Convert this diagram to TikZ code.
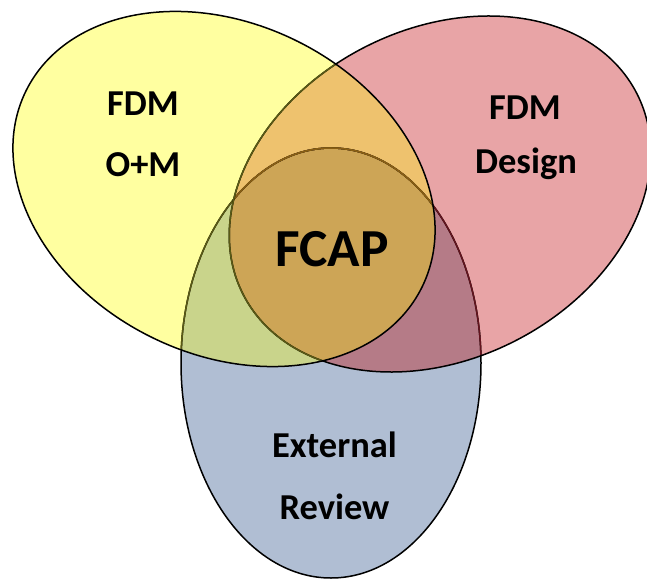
\documentclass[tikz,border=0pt]{standalone}
\usepackage{fontspec}
\setmainfont{Carlito}
\definecolor{cA}{HTML}{FFFFA0}
\definecolor{cB}{HTML}{E8A4A6}
\definecolor{cC}{HTML}{B0BED3}
\definecolor{cD}{HTML}{EEC26E}
\definecolor{cE}{HTML}{C9D48B}
\definecolor{cF}{HTML}{B57B87}
\definecolor{cG}{HTML}{CDA556}
\definecolor{lnY}{HTML}{5A5A14}
\definecolor{lnR}{HTML}{64141E}
\definecolor{lnYR}{HTML}{8A5F14}
\tikzset{
  yrot/.style={rotate around={-26.5:(224,390)}},
  rrot/.style={rotate around={27:(440,385)}},
  edge/.style={line width=1.5pt},
  lbl/.style={font=\fontsize{36.5}{42}\selectfont\bfseries, anchor=base, inner sep=0pt},
  big/.style={font=\fontsize{53.5}{62}\selectfont\bfseries, anchor=base, inner sep=0pt}
}
\newcommand\pY{[yrot] (224,390) ellipse [x radius=221, y radius=165]}
\newcommand\pR{[rrot] (440,385) ellipse [x radius=221, y radius=165]}
\newcommand\pB{(331,216) ellipse [x radius=150, y radius=215]}
\begin{document}
\begin{tikzpicture}[x=1pt,y=1pt]
\useasboundingbox (0,0) rectangle (647,579);
\clip (0,0) rectangle (647,579);
% fills
\fill[cC] \pB;
\fill[cB] \pR;
\begin{scope}\clip \pR; \fill[cF] \pB; \end{scope}
\fill[cA] \pY;
\begin{scope}
  \clip \pY;
  \fill[cE] \pB;
  \fill[cD] \pR;
  \begin{scope}\clip \pR; \fill[cG] \pB; \end{scope}
\end{scope}
% outlines
\draw[edge] \pB;
\begin{scope}\clip \pR; \draw[edge, lnR] \pB; \end{scope}
\begin{scope}
  \clip \pY;
  \draw[edge, lnY] \pB;
  \begin{scope}\clip \pR; \draw[edge, lnYR] \pB; \end{scope}
\end{scope}
\draw[edge] \pR;
\begin{scope}\clip \pY; \draw[edge, lnY] \pR; \end{scope}
\draw[edge] \pY;
% labels
\node[lbl] (fdmL) at (143,463) {FDM};
\node[lbl] (om) at (143,402) {O+M};
\node[lbl] (fdmR) at (525,459) {FDM};
\node[lbl] (design) at (526,405.5) {Design};
\node[big] (fcap) at (332,312.4) {FCAP};
\node[lbl] (ext) at (334.5,122) {External};
\node[lbl] (rev) at (334.5,60) {Review};
\end{tikzpicture}
\end{document}
